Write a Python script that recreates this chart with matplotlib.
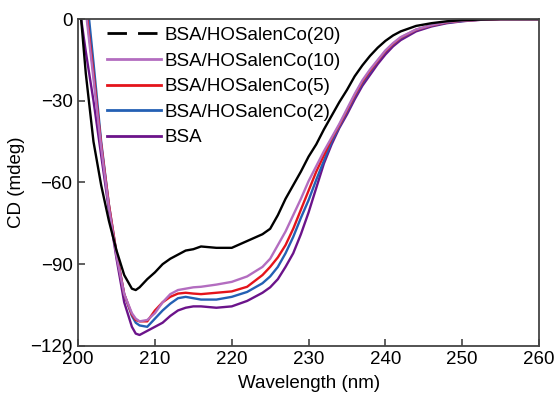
import matplotlib
matplotlib.use("Agg")
import matplotlib.pyplot as plt
from matplotlib.lines import Line2D

plt.rcParams["font.family"] = ["Liberation Sans", "DejaVu Sans"]

wavelength = [200, 201, 202, 203, 204, 205, 206, 207, 207.5, 208, 209, 210,
              211, 212, 213, 214, 215, 216, 218, 220, 222, 224, 225, 226,
              227, 228, 229, 230, 231, 232, 233, 234, 235, 236, 237, 238,
              239, 240, 241, 242, 244, 246, 248, 250, 252, 255, 260]

cd_20 = [13, -20, -45, -61, -74, -85, -94, -99, -99.5, -98.5, -95.5, -93,
         -90, -88, -86.5, -85, -84.5, -83.5, -84, -84, -81.5, -79, -77, -72,
         -66, -61, -56, -50.5, -46, -40.5, -35.5, -30.5, -26, -21, -17, -13.5,
         -10.5, -8, -6, -4.5, -2.5, -1.5, -0.8, -0.4, -0.2, 0, 0]
cd_10 = [20, 3, -22, -47, -69, -87, -101, -108, -110, -111, -110.5, -108,
         -104, -101, -99.5, -99, -98.5, -98.3, -97.5, -96.5, -94.5, -91, -88, -83,
         -78, -72, -66, -59.5, -54, -48.5, -43.5, -38.5, -33, -27.5, -22.5, -18.5,
         -15, -11.5, -8.8, -6.6, -3.8, -2.2, -1.1, -0.6, -0.3, 0, 0]
cd_5 = [22, 5, -20, -46, -68, -86, -101, -108.5, -110.5, -111, -111, -107,
        -104, -102, -100.8, -100.5, -100.8, -101, -100.5, -100, -98.3, -94, -91, -87.5,
        -83, -77, -70, -63, -56, -50, -44, -39, -33.5, -28, -23, -19,
        -15.3, -11.8, -9.1, -6.8, -3.9, -2.3, -1.2, -0.6, -0.3, 0, 0]
cd_2 = [25, 12, -16, -45, -68, -86, -101, -109, -111.5, -112.5, -113, -110,
        -107, -104.5, -102.5, -102, -102.5, -103, -103, -102, -100.2, -97, -94.5, -91,
        -86, -80, -73, -66.5, -59, -52, -45, -39.5, -34, -28.5, -23.5, -19.5,
        -15.5, -12, -9.3, -7, -4, -2.4, -1.3, -0.7, -0.3, 0, 0]
cd_bsa = [8, -12, -30, -50, -70, -88, -104, -113, -115.5, -116, -114.5, -113,
          -111.5, -109, -107, -106, -105.5, -105.5, -106, -105.5, -103.5, -100.5, -98.5, -95.5,
          -91, -86, -79, -71, -62, -53, -46, -40, -35, -29.5, -24.5, -20.5,
          -16.5, -13, -10, -7.7, -4.5, -2.7, -1.5, -0.8, -0.3, 0, 0]

labels = ["BSA/HOSalenCo(20)", "BSA/HOSalenCo(10)", "BSA/HOSalenCo(5)",
          "BSA/HOSalenCo(2)", "BSA"]
colors = ["#000000", "#B36DC0", "#E4141B", "#2460B4", "#6B138A"]
series = [cd_20, cd_10, cd_5, cd_2, cd_bsa]

FS = 13.5

fig = plt.figure(figsize=(5.58, 3.98), dpi=100)
ax = fig.add_axes([0.140, 0.131, 0.826, 0.821])

for vals, col in zip(series[::-1], colors[::-1]):
    ax.plot(wavelength, vals, color=col, lw=1.7)

ax.set_xlim(200, 260)
ax.set_ylim(-120, 0)
ax.set_xticks([200, 210, 220, 230, 240, 250, 260])
ax.set_yticks([0, -30, -60, -90, -120])
ax.tick_params(direction="in", length=5, width=1.2, color="#444444",
               labelsize=FS)
ax.tick_params(axis="x", pad=4)
ax.tick_params(axis="y", pad=4)
for sp in ax.spines.values():
    sp.set_color("#444444")
    sp.set_linewidth(1.3)

ax.set_xlabel("Wavelength (nm)", fontsize=FS, labelpad=5)
ax.set_ylabel("CD (mdeg)", fontsize=FS, labelpad=4)

# black series is drawn solid, but its legend key is dashed as in the original
handles = [Line2D([], [], color=colors[0], lw=2, ls=(0, (7, 4)))]
handles += [Line2D([], [], color=c, lw=2) for c in colors[1:]]
ax.legend(handles, labels, loc="upper left", bbox_to_anchor=(0.026, 1.028),
          frameon=False, fontsize=FS, handlelength=2.9, handletextpad=0.15,
          labelspacing=0.45)

fig.savefig("out.png", dpi=100)
